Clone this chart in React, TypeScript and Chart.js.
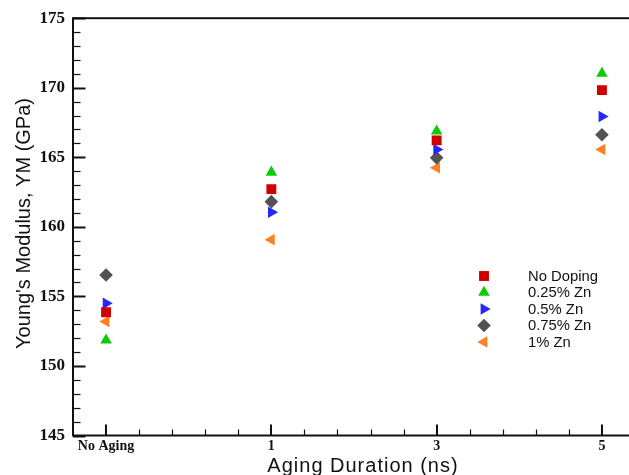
import React, { useEffect, useRef } from 'react';
import { Chart, registerables } from 'chart.js';
import { drawPoint } from 'chart.js/helpers';

Chart.register(...registerables);

// ---- data ----
const categories = ['No Aging', '1', '3', '5'];
const seriesNames = ['No Doping', '0.25% Zn', '0.5% Zn', '0.75% Zn', '1% Zn'];
const noDoping = [153.86, 162.71, 166.22, 169.83];
const zn025 = [151.85, 163.92, 166.88, 171.03];
const zn05 = [154.5, 161.05, 165.56, 167.93];
const zn075 = [156.54, 161.81, 164.96, 166.62];
const zn1 = [153.2, 159.08, 164.25, 165.56];
const yTickValues = [145, 150, 155, 160, 165, 170, 175];
const xTitle = 'Aging Duration (ns)';
const yTitle = "Young's Modulus, YM (GPa)";

// ---- styles ----
const seriesValues = [noDoping, zn025, zn05, zn075, zn1];
const seriesStyles = [
  { color: '#D00000', pointStyle: 'rect', rotation: 0, radius: 7 },
  { color: '#0BCB0B', pointStyle: 'triangle', rotation: 0, radius: 6.7 },
  { color: '#2626FF', pointStyle: 'triangle', rotation: 90, radius: 6.7 },
  { color: '#525252', pointStyle: 'rectRot', rotation: 0, radius: 6.8 },
  { color: '#FF8020', pointStyle: 'triangle', rotation: -90, radius: 6.7 },
];

const SERIF = '"Liberation Serif", "Times New Roman", serif';
const SANS = '"Liberation Sans", Arial, sans-serif';

const framePlugin = {
  id: 'framePlugin',
  beforeDatasetsDraw(chart: any) {
    const { ctx, chartArea } = chart;
    const xs = chart.scales.x;
    const ys = chart.scales.y;
    const { left, right, top, bottom } = chartArea;
    ctx.save();
    ctx.strokeStyle = '#111';
    ctx.lineCap = 'butt';
    // y ticks (inward)
    for (let v = ys.min; v <= ys.max + 1e-6; v += 1) {
      const y = Math.round(ys.getPixelForValue(v)) + 0.5;
      const major = Math.abs(v % 5) < 1e-6;
      ctx.lineWidth = major ? 2 : 1.2;
      ctx.beginPath();
      ctx.moveTo(left, y);
      ctx.lineTo(left + (major ? 12.5 : 7.5), y);
      ctx.stroke();
    }
    // x ticks (inward)
    for (let i = 1; i <= 16; i++) {
      const v = -0.2 + i * 0.2;
      if (v > xs.max - 1e-6) break;
      const major = Math.abs(v - Math.round(v)) < 1e-6;
      const x = Math.round(xs.getPixelForValue(v)) + (major ? 0 : 0.5);
      ctx.lineWidth = major ? 2 : 1.2;
      ctx.beginPath();
      ctx.moveTo(x, bottom);
      ctx.lineTo(x, bottom - (major ? 11 : 6));
      ctx.stroke();
    }
    // frame
    ctx.lineWidth = 2;
    ctx.strokeRect(left, top, right - left, bottom - top);
    ctx.restore();
  },
  afterDraw(chart: any) {
    const { ctx } = chart;
    ctx.save();
    ctx.fillStyle = '#111';
    // axis titles
    ctx.font = `20px ${SANS}`;
    ctx.textAlign = 'center';
    ctx.textBaseline = 'alphabetic';
    try { (ctx as any).letterSpacing = '1px'; } catch (e) {}
    ctx.fillText(xTitle, 363, 471.5);
    try { (ctx as any).letterSpacing = '0px'; } catch (e) {}
    ctx.save();
    ctx.translate(29.5, 223.5);
    ctx.rotate(-Math.PI / 2);
    ctx.fillText(yTitle, 0, 0);
    ctx.restore();
    // legend
    const rowY0 = 276;
    const rowStep = 16.5;
    seriesNames.forEach((name, i) => {
      const st = seriesStyles[i];
      const y = rowY0 + i * rowStep;
      ctx.fillStyle = st.color;
      drawPoint(ctx, { pointStyle: st.pointStyle, rotation: st.rotation, radius: st.radius, borderWidth: 0 } as any, 484, y);
      ctx.fillStyle = '#111';
      ctx.font = `14.8px ${SANS}`;
      ctx.textAlign = 'left';
      ctx.textBaseline = 'alphabetic';
      ctx.fillText(name, 528, y + 4.5);
    });
    ctx.restore();
  },
};

export default function App() {
  const canvasRef = useRef<HTMLCanvasElement | null>(null);

  useEffect(() => {
    const canvas = canvasRef.current;
    if (!canvas) return;
    const datasets = seriesNames.map((name, i) => ({
      label: name,
      data: seriesValues[i].map((v, j) => ({ x: j, y: v })),
      backgroundColor: seriesStyles[i].color,
      borderColor: seriesStyles[i].color,
      pointStyle: seriesStyles[i].pointStyle,
      pointRotation: seriesStyles[i].rotation,
      pointRadius: seriesStyles[i].radius,
      pointBorderWidth: 0,
      showLine: false,
    }));
    const chart = new Chart(canvas, {
      type: 'scatter',
      data: { datasets } as any,
      plugins: [framePlugin],
      options: {
        animation: false,
        responsive: false,
        events: [],
        layout: { padding: { left: 0, top: 14, right: 15, bottom: 0 } },
        plugins: { legend: { display: false }, tooltip: { enabled: false } },
        scales: {
          x: {
            type: 'linear',
            min: -0.2,
            max: 3.2,
            grid: { display: false, drawTicks: false },
            border: { display: false },
            afterBuildTicks: (scale: any) => {
              scale.ticks = categories.map((_, i) => ({ value: i }));
            },
            afterFit: (scale: any) => {
              scale.height = 39.5;
            },
            ticks: {
              autoSkip: false,
              maxRotation: 0,
              padding: 2,
              color: '#111',
              font: { family: SERIF, weight: 'bold', size: 14 },
              callback: (v: any) => categories[Math.round(Number(v))] ?? '',
            },
          },
          y: {
            type: 'linear',
            min: 145,
            max: 175,
            grid: { display: false, drawTicks: false },
            border: { display: false },
            afterBuildTicks: (scale: any) => {
              scale.ticks = yTickValues.map((v) => ({ value: v }));
            },
            afterFit: (scale: any) => {
              scale.width = 73;
            },
            ticks: {
              padding: 8,
              color: '#111',
              font: { family: SERIF, weight: 'bold', size: 17 },
            },
          },
        },
      } as any,
    });
    return () => chart.destroy();
  }, []);

  return (
    <div style={{ position: 'fixed', left: 0, top: 0, width: 629, height: 475, overflow: 'hidden', background: '#fff' }}>
      <canvas ref={canvasRef} width={650} height={475} style={{ display: 'block', width: 650, height: 475 }} />
    </div>
  );
}
